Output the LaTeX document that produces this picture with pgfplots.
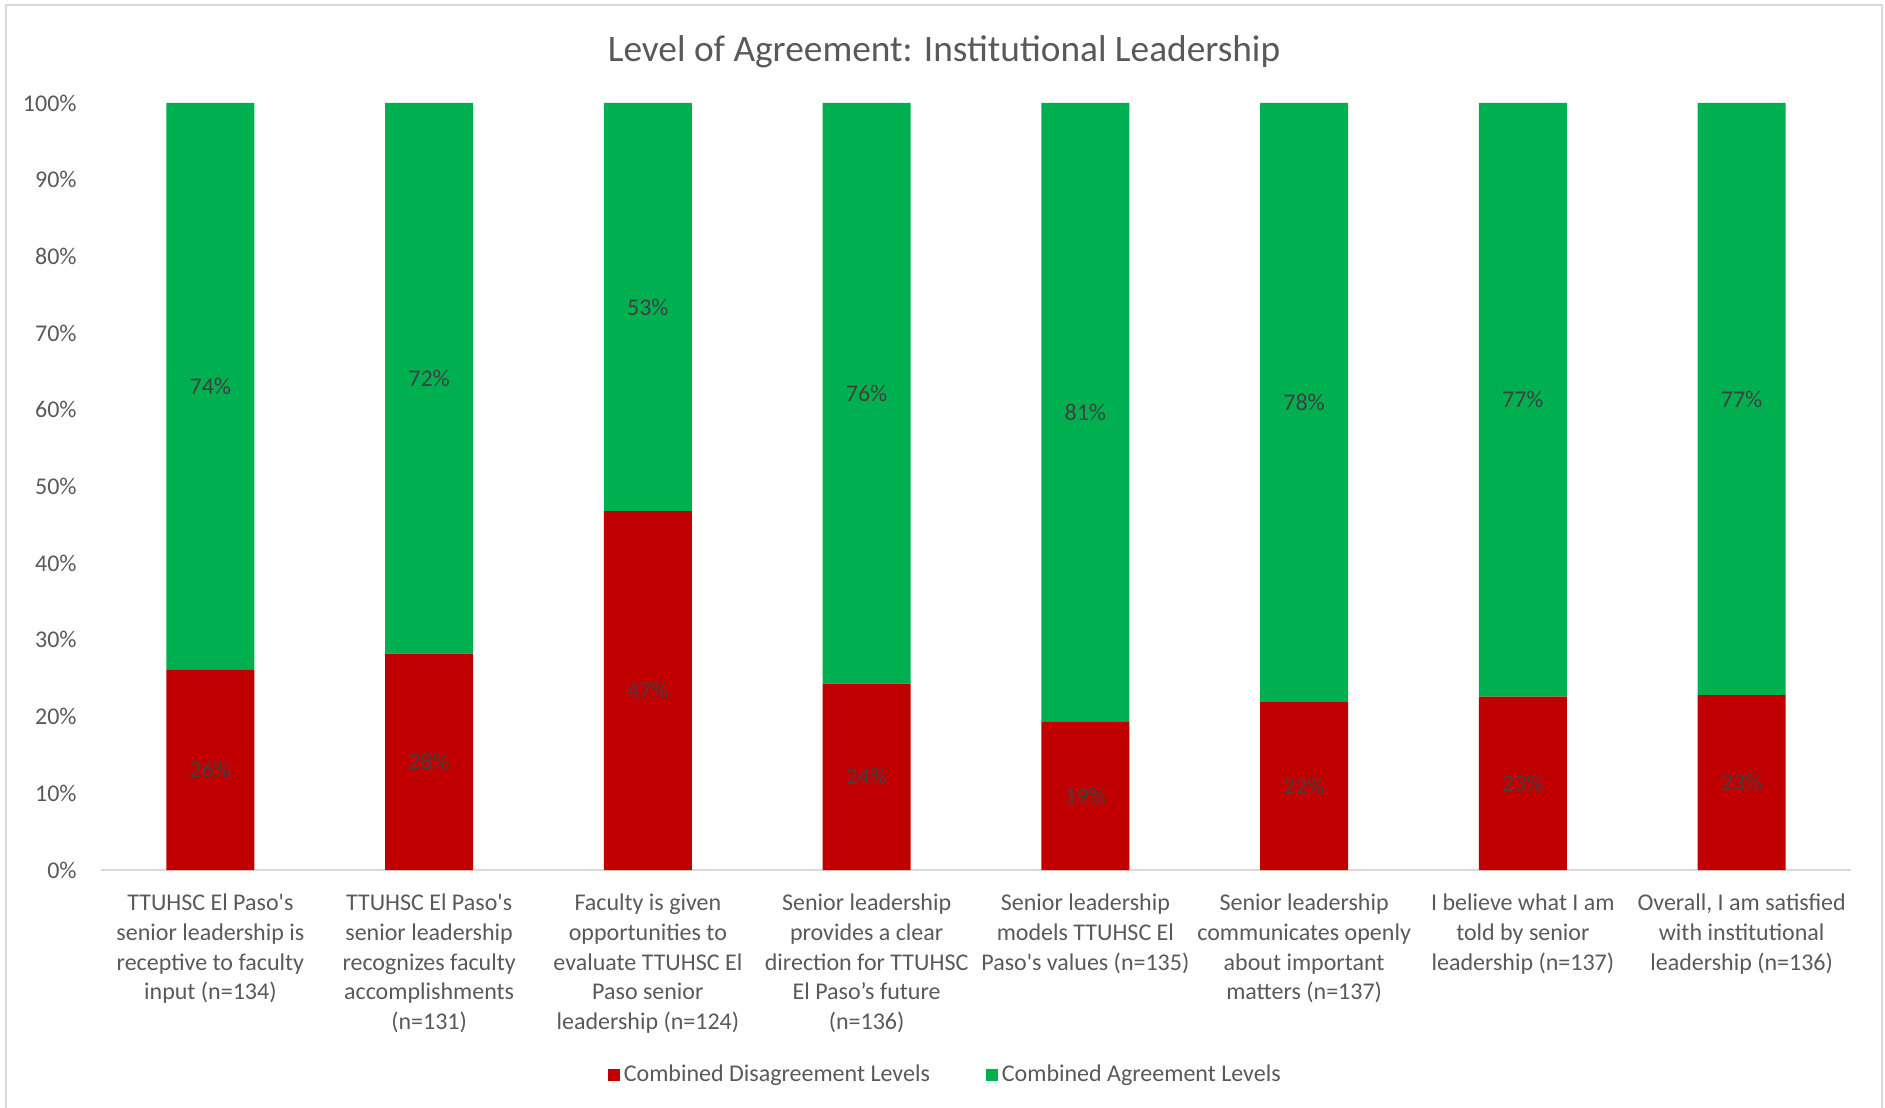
\documentclass[border=0pt]{standalone}
\usepackage{fontspec}
\setmainfont{Carlito}
\usepackage{pgfplots}
\pgfplotsset{compat=1.18}
\definecolor{disagree}{HTML}{C00000}
\definecolor{agree}{HTML}{00B050}
\definecolor{txt}{HTML}{595959}
\definecolor{lbl}{HTML}{404040}
\definecolor{rulegray}{HTML}{D9D9D9}

\begin{document}
\begin{tikzpicture}
\path[use as bounding box] (-50.5pt,-119pt) rectangle (892pt,435pt);
\draw[rulegray, line width=0.6pt] (-47.5pt,-130pt) -- (-47.5pt,432.5pt) -- (890.5pt,432.5pt) -- (890.5pt,-130pt);
\begin{axis}[
  scale only axis, width=875pt, height=383.5pt,
  ybar stacked, bar width=44pt,
  xmin=0, xmax=8, ymin=0, ymax=100,
  enlarge x limits=false, enlarge y limits=false,
  axis x line*=bottom, axis y line*=left,
  x axis line style={rulegray, line width=1pt, -},
  y axis line style={draw=none},
  major tick length=0pt,
  xtick={0.5,1.5,...,7.5},
  xticklabels={
    {TTUHSC El Paso\textquotesingle s\\senior leadership is\\receptive to faculty\\input (n=134)},
    {TTUHSC El Paso\textquotesingle s\\senior leadership\\recognizes faculty\\accomplishments\\(n=131)},
    {Faculty is given\\opportunities to\\evaluate TTUHSC El\\Paso senior\\leadership (n=124)},
    {Senior leadership\\provides a clear\\direction for TTUHSC\\El Paso’s future\\(n=136)},
    {Senior leadership\\models TTUHSC El\\Paso\textquotesingle s values (n=135)},
    {Senior leadership\\communicates openly\\about important\\matters (n=137)},
    {I believe what I am\\told by senior\\leadership (n=137)},
    {Overall, I am satisfied\\with institutional\\leadership (n=136)}},
  xticklabel style={align=center, anchor=north, inner sep=0pt, yshift=-11.8pt,
    font=\fontsize{12}{14.85}\selectfont, text=txt},
  ytick={0,10,...,100},
  yticklabel={\pgfmathprintnumber{\tick}\%},
  yticklabel style={anchor=east, inner sep=0pt, xshift=-12pt,
    font=\fontsize{12}{14}\selectfont, text=txt},
  /pgf/number format/assume math mode=true,
  title={Level of Agreement: Institutional Leadership},
  title style={at={(0.4817,1)}, anchor=center, yshift=19.8pt,
    font=\fontsize{18.67}{21}\selectfont, text=txt},
  visualization depends on={rawy\as\rawy},
  nodes near coords={\pgfmathprintnumber[fixed,precision=0]{\rawy}\%},
  every node near coord/.append style={anchor=center,
    font=\fontsize{12}{14}\selectfont, text=lbl},
  legend style={at={(0.483,-0.267)}, anchor=center, draw=none, fill=none,
    legend columns=2, font=\fontsize{12}{14}\selectfont, text=txt,
    /tikz/every even column/.append style={column sep=26pt}},
  legend image code/.code={\fill[#1] (0pt,-3pt) rectangle (6pt,3pt);},
]
\addplot[fill=disagree, draw=none] coordinates {
  (0.5,26.1) (1.5,28.2) (2.5,46.8) (3.5,24.3)
  (4.5,19.3) (5.5,21.9) (6.5,22.6) (7.5,22.8)};
\addlegendentry{Combined Disagreement Levels}
\addplot[fill=agree, draw=none] coordinates {
  (0.5,73.9) (1.5,71.8) (2.5,53.2) (3.5,75.7)
  (4.5,80.7) (5.5,78.1) (6.5,77.4) (7.5,77.2)};
\addlegendentry{Combined Agreement Levels}
\end{axis}
\end{tikzpicture}
\end{document}
